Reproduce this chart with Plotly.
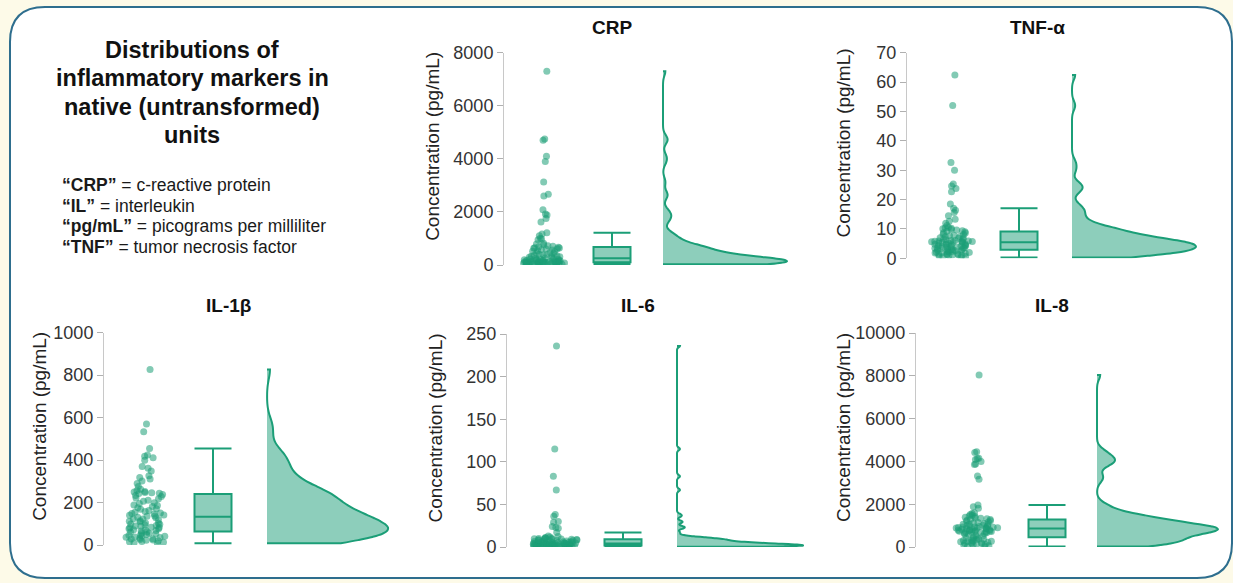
import plotly.graph_objects as go

# ---------------- data ----------------
markers = ["CRP", "TNF-α", "IL-1β", "IL-6", "IL-8"]
tick_tops = [8000, 70, 1000, 250, 10000]
tick_steps = [2000, 10, 200, 50, 2000]

crp = [7300, 4750, 4700, 4100, 3900, 3130, 2670, 2600, 2080, 1920, 1880, 1750, 1620,
       1215, 1170, 1100, 1010, 980, 950, 820, 790, 765, 730, 705, 690,
       668, 652, 641, 628, 612, 600, 583, 561, 538, 517, 496, 468, 452, 431, 409, 396,
       382, 364, 351, 333, 318, 307, 289, 276, 262,
       249, 241, 230, 226, 214, 206, 197, 191, 183, 174, 169, 161, 156, 149, 146, 139,
       136, 129, 127, 121, 117, 115, 109, 107, 103,
       99, 97, 92, 91, 86, 84, 82, 77, 75, 73, 68, 66, 64, 59, 58, 53, 51, 49, 44, 43,
       38, 36, 32, 31, 27]

tnf = [62.4, 52.0, 32.6, 30.0, 25.3, 24.6, 23.8, 22.7, 18.5, 17.0, 16.4, 15.6, 14.5,
       13.3, 12.6, 11.9, 11.2, 10.6, 10.4, 10.2, 10.1, 9.8, 9.6, 9.4, 9.2,
       9.0, 8.7, 8.6, 8.2, 8.1, 7.8, 7.7, 7.4, 7.3, 7.0, 6.9, 6.8, 6.5, 6.5, 6.3, 6.1,
       6.1, 5.9, 5.9, 5.8, 5.7, 5.7, 5.6, 5.6, 5.5,
       5.4, 5.3, 5.2, 5.1, 4.9, 4.9, 4.8, 4.6, 4.6, 4.5, 4.3, 4.3, 4.1, 4.1, 4.0, 3.8,
       3.8, 3.7, 3.5, 3.5, 3.4, 3.3, 3.2, 3.1, 3.0,
       2.9, 2.8, 2.6, 2.6, 2.5, 2.3, 2.3, 2.1, 2.1, 2.0, 1.8, 1.8, 1.7, 1.5, 1.5, 1.4,
       1.3, 1.2, 1.1, 1.0, 0.9, 0.8, 0.6, 0.5, 0.3]

il1b = [827, 570, 534, 455, 424, 418, 411, 399, 370, 361, 349, 326, 318, 311, 301,
        290, 276, 263, 257, 252, 250, 247, 246, 244, 242,
        238, 233, 228, 221, 218, 211, 206, 199, 196, 189, 186, 181, 176, 171, 168, 163,
        158, 154, 151, 148, 146, 141, 140, 137, 135,
        131, 128, 124, 122, 119, 114, 112, 109, 104, 102, 99, 98, 94, 92, 89, 88, 84,
        82, 81, 77, 76, 72, 71, 68, 66,
        62, 61, 57, 55, 53, 50, 47, 46, 42, 41, 38, 36, 35, 32, 29, 28, 26, 23, 22, 20,
        17, 15, 13, 10, 8]

il6 = [236, 115, 83, 67, 38, 36, 30, 29, 24, 23, 22, 17, 13, 12.2, 11.6, 11.1, 10.7,
       10.4, 10.1, 9.9, 9.7, 9.5, 9.3, 9.2, 9.1,
       8.8, 8.5, 8.3, 8.0, 7.7, 7.5, 7.2, 7.0, 6.7, 6.5, 6.3, 6.1, 5.9, 5.7, 5.6, 5.4,
       5.2, 5.1, 4.9, 4.8, 4.7, 4.6, 4.4, 4.3, 4.3,
       4.1, 4.0, 3.8, 3.7, 3.6, 3.4, 3.3, 3.2, 3.1, 2.9, 2.8, 2.7, 2.6, 2.5, 2.4, 2.3,
       2.3, 2.2, 2.1, 2.0, 2.0, 1.9, 1.9, 1.8, 1.8,
       1.7, 1.7, 1.6, 1.5, 1.5, 1.4, 1.3, 1.3, 1.2, 1.1, 1.1, 1.0, 0.9, 0.9, 0.8, 0.7,
       0.7, 0.6, 0.5, 0.5, 0.4, 0.4, 0.3, 0.3, 0.2]

il8 = [8040, 4450, 4420, 4150, 4130, 4090, 3990, 3880, 3860, 3320, 3170, 1960, 1880,
       1810, 1600, 1560, 1520, 1480, 1450, 1420, 1390, 1360, 1340, 1320, 1300,
       1280, 1255, 1230, 1200, 1170, 1150, 1120, 1100, 1080, 1060, 1040, 1020, 1000,
       985, 970, 955, 940, 930, 920, 910, 900, 895, 885, 880, 872,
       865, 850, 835, 820, 805, 790, 780, 770, 760, 750, 740, 730, 720, 710, 700, 690,
       680, 665, 650, 630, 610, 580, 550, 510, 460,
       440, 420, 400, 380, 360, 340, 320, 300, 285, 270, 255, 240, 225, 210, 195, 180,
       165, 150, 135, 120, 100, 80, 60, 40, 20]

series = [crp, tnf, il1b, il6, il8]
bandwidths = [170, 1.6, 45, 1.6, 220]

# ---------------- layout geometry (pixels in a 1233 x 583 page) ----------------
W, H = 1233, 583
# axis line x, strip centre, box centre, violin base, violin max, y of top tick, y of 0
geom = [
    dict(ax=504, strip=545, box=612, vb=663, vm=787, top=52.7, bot=265.0, tx=612, ty=28, lx=433),
    dict(ax=907, strip=953, box=1019, vb=1072, vm=1196, top=52.7, bot=258.3, tx=1037, ty=28, lx=843),
    dict(ax=104, strip=147, box=213, vb=267, vm=388, top=332.7, bot=545.0, tx=228, ty=305, lx=40),
    dict(ax=507, strip=555, box=623, vb=677, vm=803, top=334.0, bot=547.0, tx=638, ty=305, lx=435),
    dict(ax=916, strip=977, box=1047, vb=1097, vm=1218, top=333.0, bot=547.0, tx=1052, ty=305, lx=843),
]

GREEN = "#1b9e77"
PT = "rgba(27,158,119,0.55)"
FILL = "rgba(27,158,119,0.5)"
FONT = "Arial, Liberation Sans, sans-serif"
BG = "#fdfae8"

def px(x):
    return x / W

def py(y):
    return 1 - y / H

fig = go.Figure()
layout = {}
annotations = []

for i, (name, vals, g) in enumerate(zip(markers, series, geom)):
    k = i + 1
    xa, ya = f"x{k}", f"y{k}"
    width_px = g["vm"] + 6 - g["ax"]
    # strip (jittered points)
    fig.add_trace(go.Box(
        y=vals, x0=g["strip"] - g["ax"], width=44, boxpoints="all", jitter=1, pointpos=0,
        fillcolor="rgba(0,0,0,0)", line=dict(width=0, color="rgba(0,0,0,0)"),
        whiskerwidth=0, marker=dict(color=PT, size=7, line=dict(width=0)),
        xaxis=xa, yaxis=ya, showlegend=False, hoverinfo="y"))
    # box plot (Tukey whiskers, outliers not drawn)
    fig.add_trace(go.Box(
        y=vals, x0=g["box"] - g["ax"], width=37, boxpoints="outliers",
        marker=dict(color="rgba(0,0,0,0)", size=1, opacity=0,
                    line=dict(width=0, outliercolor="rgba(0,0,0,0)")),
        fillcolor=FILL, line=dict(color=GREEN, width=2), whiskerwidth=1,
        xaxis=xa, yaxis=ya, showlegend=False))
    # half violin
    fig.add_trace(go.Violin(
        y=vals, x0=g["vb"] - g["ax"], width=2 * (g["vm"] - g["vb"]), side="positive",
        spanmode="hard", bandwidth=bandwidths[i], points=False, scalemode="width",
        fillcolor=FILL, line=dict(color=GREEN, width=2),
        box_visible=False, meanline_visible=False,
        xaxis=xa, yaxis=ya, showlegend=False))

    sfx = "" if k == 1 else str(k)
    layout["xaxis" + sfx] = dict(domain=[px(g["ax"]), px(g["ax"] + width_px)],
                                 range=[0, width_px], visible=False, anchor=ya,
                                 fixedrange=True, automargin=False)
    layout["yaxis" + sfx] = dict(
        domain=[py(g["bot"]), py(g["top"])], range=[0, tick_tops[i]], anchor=xa,
        tickmode="linear", tick0=0, dtick=tick_steps[i], tickformat="d",
        showline=True, linecolor="#c8c8c8", linewidth=1, showgrid=False, zeroline=False,
        ticks="outside", ticklen=6, tickcolor="#b0b0b0", tickwidth=1, automargin=False,
        tickfont=dict(family=FONT, size=18, color="#333333"), fixedrange=True)

    annotations.append(dict(text=f"<b>{name}</b>", x=px(g["tx"]), y=py(g["ty"]),
                            xref="paper", yref="paper", showarrow=False,
                            xanchor="center", yanchor="middle",
                            font=dict(family=FONT, size=19, color="#111111")))
    annotations.append(dict(text="Concentration (pg/mL)", textangle=-90,
                            x=px(g["lx"]), y=py((g["top"] + g["bot"]) / 2 - 12),
                            xref="paper", yref="paper", showarrow=False,
                            xanchor="center", yanchor="middle",
                            font=dict(family=FONT, size=19, color="#222222")))

# main title, one annotation per line
title_lines = ["Distributions of", "inflammatory markers in", "native (untransformed)", "units"]
for j, t in enumerate(title_lines):
    annotations.append(dict(text=f"<b>{t}</b>", x=px(192), y=py(50 + 28.4 * j),
                            xref="paper", yref="paper", showarrow=False,
                            xanchor="center", yanchor="middle",
                            font=dict(family=FONT, size=23.5, color="#111111")))

abbrev = [("“CRP”", "c-reactive protein"), ("“IL”", "interleukin"),
          ("“pg/mL”", "picograms per milliliter"), ("“TNF”", "tumor necrosis factor")]
for j, (a, b) in enumerate(abbrev):
    annotations.append(dict(text=f"<b>{a}</b> = {b}", x=px(60), y=py(185 + 20.6 * j),
                            xref="paper", yref="paper", showarrow=False,
                            xanchor="left", yanchor="middle",
                            font=dict(family=FONT, size=17.5, color="#1a1a1a")))

# rounded frame
L, T, R, B, r = 10, 7, 1232, 578, 35
def P(x, y):
    return f"{px(x):.5f},{py(y):.5f}"
path = (f"M {P(L + r, T)} L {P(R - r, T)} Q {P(R, T)} {P(R, T + r)} "
        f"L {P(R, B - r)} Q {P(R, B)} {P(R - r, B)} L {P(L + r, B)} "
        f"Q {P(L, B)} {P(L, B - r)} L {P(L, T + r)} Q {P(L, T)} {P(L + r, T)} Z")

fig.update_layout(
    width=W, height=H, autosize=False,
    margin=dict(l=0, r=0, t=0, b=0, pad=0, autoexpand=False),
    paper_bgcolor=BG, plot_bgcolor="rgba(0,0,0,0)",
    showlegend=False, annotations=annotations,
    shapes=[dict(type="path", path=path, xref="paper", yref="paper",
                 fillcolor="white", line=dict(color="#2e6e8e", width=2), layer="below")],
    font=dict(family=FONT),
    **layout)

post = (
    "var st=document.createElement('style');"
    "st.textContent='html,body{margin:0;padding:0;overflow:hidden;"
    f"background:{BG};}}';"
    "document.head.appendChild(st);"
)

fig.write_html("out.html", config={"displayModeBar": False}, post_script=post)
